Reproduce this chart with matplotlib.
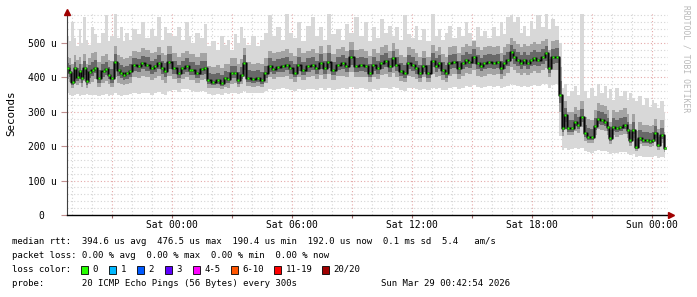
import matplotlib
matplotlib.use("Agg")
import matplotlib.pyplot as plt
from matplotlib.patches import Rectangle
import numpy as np

# sample times, hours relative to Sat 00:00
hours = [-5.2, -5.1, -4.95, -4.85, -4.7, -4.6, -4.5, -4.35, -4.25, -4.1, -3.95, -3.85, -3.65, -3.4, -3.3,
         -3.15, -3.0, -2.85, -2.65, -2.55, -2.4, -2.25, -2.1, -1.9, -1.65, -1.5, -1.25, -1.0, -0.85, -0.65,
         -0.5, -0.35, -0.15, 0.1, 0.35, 0.5, 0.75, 0.9, 1.0, 1.25, 1.5, 1.65, 1.8, 2.05, 2.3, 2.5, 2.65,
         2.8, 3.0, 3.15, 3.3, 3.5, 3.6, 3.8, 4.05, 4.3, 4.5, 4.65, 4.9, 5.05, 5.3, 5.55, 5.75, 5.9, 6.15,
         6.3, 6.55, 6.8, 7.05, 7.2, 7.45, 7.65, 7.8, 8.05, 8.3, 8.55, 8.7, 8.95, 9.2, 9.45, 9.7, 9.9, 10.05,
         10.3, 10.45, 10.7, 10.9, 11.05, 11.2, 11.45, 11.65, 11.8, 12.05, 12.2, 12.4, 12.55, 12.8, 13.05,
         13.2, 13.35, 13.55, 13.7, 13.85, 14.1, 14.35, 14.55, 14.7, 14.85, 15.1, 15.3, 15.45, 15.6, 15.85,
         16.1, 16.3, 16.45, 16.6, 16.8, 17.0, 17.1, 17.3, 17.45, 17.6, 17.8, 17.95, 18.1, 18.3, 18.55, 18.7,
         18.85, 19.05, 19.25, 19.4, 19.55, 19.65, 19.8, 20.0, 20.15, 20.3, 20.5, 20.65, 20.8, 21.0, 21.15,
         21.3, 21.5, 21.65, 21.8, 21.9, 22.05, 22.25, 22.4, 22.65, 22.8, 22.9, 23.05, 23.2, 23.4, 23.55,
         23.75, 23.9, 24.05, 24.15, 24.3, 24.5, 24.65]

# median rtt (microseconds)
median = [426, 416, 388, 426, 402, 418, 397, 426, 390, 416, 421, 428, 398, 418, 424, 408, 398, 446, 421, 412,
          408, 412, 418, 436, 432, 441, 436, 426, 432, 441, 426, 418, 446, 426, 412, 426, 432, 421, 421, 412,
          424, 426, 392, 388, 392, 383, 398, 395, 412, 412, 392, 408, 443, 398, 395, 398, 392, 412, 432, 424,
          430, 432, 436, 426, 414, 436, 421, 432, 436, 426, 443, 426, 446, 421, 436, 441, 432, 458, 432, 436,
          432, 414, 436, 426, 441, 449, 432, 455, 436, 418, 412, 441, 436, 426, 412, 432, 412, 448, 432, 441,
          421, 412, 441, 446, 426, 441, 451, 446, 460, 441, 434, 441, 446, 441, 446, 426, 441, 450, 475, 458,
          450, 441, 451, 441, 450, 455, 450, 458, 470, 426, 458, 460, 349, 253, 290, 253, 253, 271, 262, 285,
          237, 228, 226, 260, 280, 276, 271, 256, 224, 256, 252, 256, 262, 247, 218, 247, 199, 224, 218, 218,
          216, 218, 237, 204, 232, 195]

# smoke: fastest ping, lower quartile, upper quartile, slowest ping (microseconds)
ping_min = [355, 350, 345, 350, 352, 345, 350, 348, 352, 350, 348, 350, 345, 350, 352, 345, 348, 355, 350, 345,
            348, 350, 352, 355, 352, 356, 355, 350, 355, 358, 352, 350, 360, 362, 358, 365, 365, 362, 360, 358,
            360, 358, 352, 350, 352, 350, 354, 352, 355, 356, 352, 356, 360, 354, 355, 356, 355, 360, 365, 362,
            365, 368, 366, 362, 360, 365, 362, 365, 366, 362, 368, 362, 370, 362, 366, 368, 365, 372, 366, 368,
            365, 360, 366, 364, 368, 370, 366, 372, 368, 362, 360, 368, 368, 365, 362, 366, 362, 370, 366, 370,
            364, 362, 370, 372, 366, 370, 374, 372, 378, 372, 370, 372, 374, 372, 374, 368, 372, 375, 380, 378,
            376, 372, 376, 372, 376, 378, 376, 380, 382, 370, 378, 380, 230, 190, 195, 190, 192, 195, 192, 196,
            185, 182, 180, 185, 188, 186, 185, 182, 178, 180, 180, 182, 182, 178, 175, 178, 170, 172, 170, 170,
            168, 168, 172, 166, 170, 165]
ping_q1 = [395, 388, 370, 392, 378, 385, 372, 390, 368, 382, 388, 395, 372, 385, 390, 380, 372, 400, 385, 382,
           378, 380, 385, 400, 398, 405, 400, 392, 398, 405, 392, 385, 405, 395, 385, 395, 400, 392, 392, 385,
           392, 395, 370, 368, 370, 365, 372, 370, 382, 385, 372, 380, 400, 375, 372, 375, 372, 385, 400, 395,
           400, 402, 405, 395, 388, 402, 392, 400, 404, 395, 408, 395, 410, 392, 404, 405, 400, 415, 400, 402,
           400, 388, 402, 396, 406, 410, 400, 414, 402, 390, 386, 405, 402, 396, 386, 400, 386, 410, 400, 405,
           392, 386, 405, 410, 396, 405, 412, 410, 420, 405, 402, 405, 410, 406, 410, 396, 405, 414, 430, 420,
           414, 406, 414, 406, 414, 418, 414, 420, 428, 400, 420, 422, 300, 230, 250, 232, 232, 245, 238, 255,
           215, 210, 208, 232, 250, 248, 245, 232, 205, 232, 228, 232, 236, 225, 200, 225, 185, 205, 200, 200,
           198, 200, 212, 190, 208, 182]
ping_q3 = [460, 455, 440, 465, 450, 458, 440, 468, 440, 455, 470, 475, 445, 462, 468, 450, 448, 490, 465, 460,
           452, 455, 462, 478, 475, 485, 480, 470, 475, 488, 470, 465, 492, 472, 460, 470, 478, 468, 468, 460,
           470, 472, 432, 430, 435, 428, 440, 438, 455, 455, 438, 452, 485, 445, 440, 442, 438, 455, 478, 470,
           475, 478, 482, 472, 462, 485, 470, 478, 482, 472, 490, 472, 495, 468, 482, 488, 478, 502, 480, 482,
           478, 462, 482, 472, 488, 495, 478, 500, 482, 466, 460, 488, 482, 472, 460, 478, 460, 495, 478, 488,
           468, 460, 488, 492, 472, 488, 498, 492, 505, 488, 480, 488, 492, 488, 492, 472, 488, 498, 515, 505,
           498, 488, 498, 490, 498, 502, 498, 505, 512, 480, 505, 508, 430, 300, 330, 300, 298, 315, 305, 330,
           285, 278, 275, 305, 325, 320, 318, 305, 270, 305, 300, 305, 310, 295, 265, 295, 245, 270, 262, 262,
           260, 262, 280, 250, 275, 240]
ping_max = [520, 505, 560, 515, 490, 540, 500, 575, 510, 495, 545, 525, 500, 530, 580, 505, 520, 585, 515, 545,
            505, 530, 510, 540, 525, 560, 515, 540, 520, 575, 510, 545, 530, 520, 545, 510, 560, 520, 500, 530,
            515, 555, 490, 505, 480, 520, 495, 510, 480, 525, 500, 545, 515, 495, 520, 490, 510, 530, 580, 520,
            545, 510, 585, 530, 515, 560, 505, 550, 575, 520, 545, 510, 585, 525, 540, 510, 555, 530, 575, 520,
            560, 505, 545, 515, 570, 530, 550, 520, 545, 510, 580, 525, 515, 550, 510, 540, 505, 585, 520, 540,
            510, 530, 550, 515, 545, 520, 560, 530, 510, 545, 520, 535, 515, 545, 520, 560, 525, 575, 580, 560,
            575, 530, 550, 520, 565, 540, 580, 545, 585, 540, 570, 550, 500, 370, 380, 345, 360, 375, 350, 585,
            360, 340, 370, 345, 380, 355, 375, 340, 365, 335, 370, 345, 360, 335, 355, 340, 330, 345, 320, 340,
            315, 335, 325, 310, 330, 300]

y_max = 590
tick_hours = [0, 6, 12, 18, 24]
tick_labels = ["Sat 00:00", "Sat 06:00", "Sat 12:00", "Sat 18:00", "Sun 00:00"]

loss_labels = ["0", "1", "2", "3", "4-5", "6-10", "11-19", "20/20"]
loss_colors = ["#26ff00", "#00b8ff", "#0059ff", "#5e00ff", "#ff00ff", "#ff5500", "#ff0000", "#a00000"]

W, H = 697, 297
fig = plt.figure(figsize=(W / 100, H / 100), dpi=100)
fig.patch.set_facecolor("white")
ax = fig.add_axes([67 / W, 82 / H, 601 / W, 203 / H])

t = np.array(hours)
med = np.array(median)
lo = np.array(ping_min)
q1 = np.array(ping_q1)
q3 = np.array(ping_q3)
hi = np.array(ping_max)

# grid
for v in range(20, y_max, 20):
    major = v % 100 == 0
    ax.axhline(v, color="#e4a8a8" if major else "#d4d4d4", lw=0.8,
               ls=(0, (1, 2)), zorder=0)
for h in range(-5, 25):
    major = h % 3 == 0
    ax.axvline(h, color="#e4a8a8" if major else "#d4d4d4", lw=0.8,
               ls=(0, (1, 2)), zorder=0)

# smoke
ax.fill_between(t, lo, hi, step="mid", color="#d8d8d8", lw=0, zorder=1)
ax.fill_between(t, q1, q3, step="mid", color="#a4a4a4", lw=0, zorder=2)
ax.fill_between(t, (q1 + med) / 2, (q3 + med) / 2, step="mid", color="#686868", lw=0, zorder=3)
ax.step(t, med, where="mid", color="#2c2c2c", lw=1.8, zorder=4)
ax.step(t, med, where="mid", color="black", lw=0.6, zorder=5)
ax.plot(t, med, ls="none", marker="s", ms=1.9, mfc="#26ff00", mec="none", zorder=6)

ax.set_xlim(-5.25, 24.8)
ax.set_ylim(0, y_max)

ax.set_xticks(tick_hours)
ax.set_xticklabels(tick_labels, family="DejaVu Sans Mono", fontsize=6.9)
ax.set_xticks(range(-3, 25, 3), minor=True)
ax.tick_params(axis="x", which="both", length=2.5, width=0.8, color="#a06060", pad=1)
ax.set_yticks(range(0, 501, 100))
ax.set_yticklabels(["0  " if v == 0 else f"{v} u" for v in range(0, 501, 100)],
                   family="DejaVu Sans Mono", fontsize=6.9)
ax.tick_params(axis="y", length=4, width=0.8, color="#c09090", pad=3.5)

for s in ["top", "right"]:
    ax.spines[s].set_visible(False)
ax.spines["left"].set_color("#404040")
ax.spines["bottom"].set_color("black")
ax.spines["left"].set_linewidth(0.8)
ax.spines["bottom"].set_linewidth(1.0)
ax.plot(0, 1.0, marker="^", ms=4, color="#a00000", transform=ax.transAxes, clip_on=False, zorder=10)
ax.plot(1.005, 0, marker=">", ms=4, color="#a00000", transform=ax.transAxes, clip_on=False, zorder=10)

fig.text(11 / W, 1 - 113 / H, "Seconds", rotation=90, ha="center", va="center",
         family="DejaVu Sans Mono", fontsize=7.8)

fig.text(686 / W, 1 - 5 / H, "RRDTOOL / TOBI OETIKER", rotation=-90, ha="center", va="top",
         family="DejaVu Sans Mono", fontsize=5.8, color="#b8b8b8")

mono = dict(family="DejaVu Sans Mono", fontsize=6.45, va="center")
fig.text(12 / W, 1 - 241 / H,
         "median rtt:  394.6 us avg  476.5 us max  190.4 us min  192.0 us now  0.1 ms sd  5.4   am/s", **mono)
fig.text(12 / W, 1 - 256 / H, "packet loss: 0.00 % avg  0.00 % max  0.00 % min  0.00 % now", **mono)
fig.text(12 / W, 1 - 269.5 / H, "loss color:", **mono)
fig.text(12 / W, 1 - 283.5 / H, "probe:       20 ICMP Echo Pings (56 Bytes) every 300s", **mono)
fig.text(510 / W, 1 - 283.5 / H, "Sun Mar 29 00:42:54 2026", ha="right", **mono)

box_x = [81, 109, 137, 165, 193, 231, 274, 322]
for bx, lab, col in zip(box_x, loss_labels, loss_colors):
    fig.patches.append(Rectangle((bx / W, 1 - 273.5 / H), 7 / W, 8 / H, transform=fig.transFigure,
                                 facecolor=col, edgecolor="black", lw=0.6))
    fig.text((bx + 11.5) / W, 1 - 269.5 / H, lab, **mono)

fig.savefig("out.png", dpi=100)
